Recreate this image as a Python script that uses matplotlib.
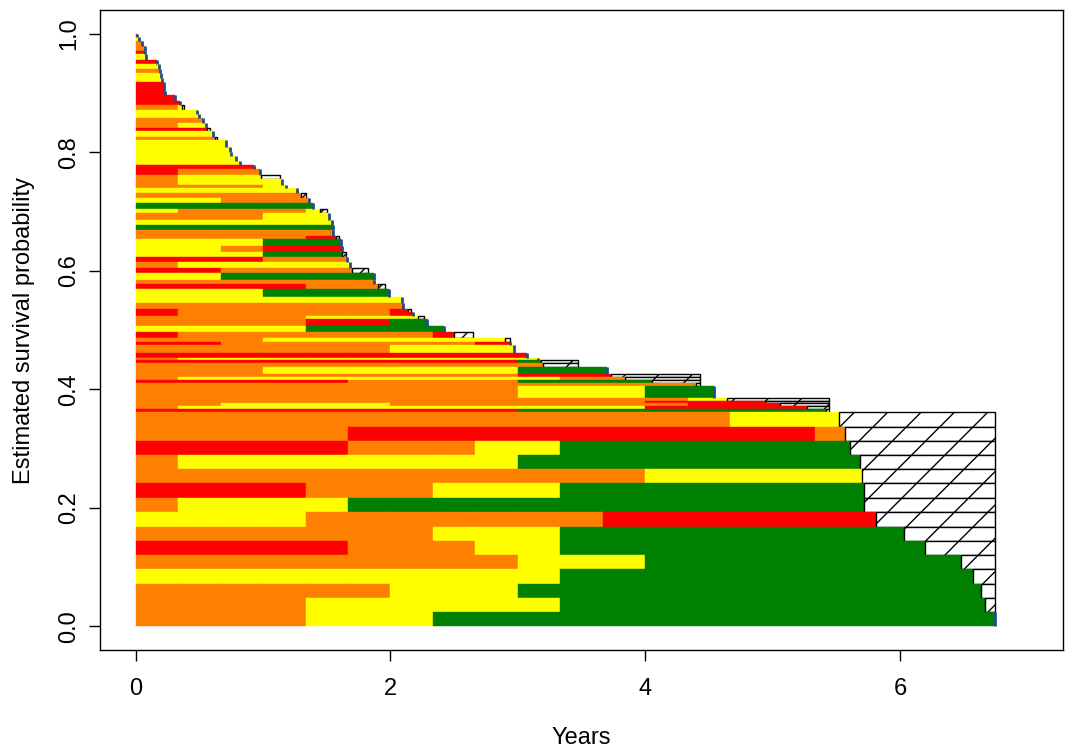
import numpy as np
import matplotlib.pyplot as plt

plt.rcParams['font.family'] = ['Liberation Sans', 'DejaVu Sans']
plt.rcParams['hatch.linewidth'] = 1.0

# state colours (one code per 4-month visit interval)
state_colors = {'O': '#FF8000', 'R': '#FF0000', 'Y': '#FFFF00', 'G': '#008000'}
visit = 1 / 3

# rows listed from top to bottom: top of row (survival), end time (years),
# states per visit interval (last one carries on), censoring box end (0 = death)
row_top = [1.000, 0.995, 0.987, 0.980, 0.971, 0.965, 0.956, 0.949, 0.941, 0.934,
           0.926, 0.919, 0.903, 0.896, 0.887, 0.880, 0.872, 0.865, 0.857, 0.850,
           0.841, 0.835, 0.826, 0.820, 0.809, 0.801, 0.794, 0.786, 0.779, 0.772,
           0.762, 0.755, 0.745, 0.739, 0.732, 0.723, 0.715, 0.705, 0.698, 0.686,
           0.678, 0.669, 0.659, 0.653, 0.641, 0.632, 0.624, 0.614, 0.605, 0.597,
           0.585, 0.577, 0.570, 0.556, 0.545, 0.535, 0.530, 0.523, 0.518, 0.506,
           0.496, 0.487, 0.479, 0.474, 0.462, 0.452, 0.449, 0.444, 0.438, 0.425,
           0.420, 0.415, 0.410, 0.406, 0.386, 0.381, 0.376, 0.371, 0.366,
           0.361, 0.337, 0.313, 0.289, 0.265, 0.241, 0.217, 0.193, 0.168, 0.144,
           0.120, 0.096, 0.072, 0.048, 0.024]
row_end = [0.01, 0.03, 0.047, 0.07, 0.07, 0.08, 0.17, 0.18, 0.19, 0.20,
           0.21, 0.22, 0.23, 0.31, 0.35, 0.36, 0.48, 0.50, 0.53, 0.55,
           0.56, 0.61, 0.62, 0.71, 0.74, 0.75, 0.79, 0.82, 0.93, 0.975,
           0.98, 1.15, 1.18, 1.27, 1.30, 1.36, 1.39, 1.45, 1.52, 1.54,
           1.55, 1.55, 1.57, 1.61, 1.62, 1.62, 1.66, 1.68, 1.70, 1.87,
           1.87, 1.90, 1.99, 2.09, 2.10, 2.14, 2.18, 2.22, 2.29, 2.42,
           2.50, 2.90, 2.94, 2.97, 3.07, 3.16, 3.18, 3.20, 3.70, 3.73,
           3.84, 4.05, 4.40, 4.54, 4.64, 4.94, 5.06, 5.27, 5.42,
           5.52, 5.57, 5.61, 5.69, 5.70, 5.72, 5.72, 5.81, 6.03, 6.20,
           6.48, 6.57, 6.64, 6.67, 6.75]
row_states = ['R', 'Y', 'O', 'O', 'R', 'Y', 'R', 'Y', 'O', 'Y',
              'Y', 'R', 'R', 'R', 'R', 'OY', 'Y', 'Y', 'O', 'OY',
              'R', 'Y', 'O', 'Y', 'Y', 'Y', 'Y', 'Y', 'R', 'RO',
              'OYY', 'OYYY', 'OOOY', 'Y', 'OOOO', 'YYO', 'G', 'YOOOY', 'OOOY', 'Y',
              'G', 'O', 'OOOOR', 'YYYG', 'YYOR', 'YYYG', 'RRRO', 'OY', 'RRO', 'YYG',
              'O', 'RRRRO', 'YYYG', 'Y', 'O', 'ROOOOOR', 'ROOOOOR', 'OOOOYYY', 'OOOORRG', 'YYYYG',
              'ROOOOOOR', 'OOOYYYYYY', 'RROOOOOOR', 'OOOOOOYYY', 'R', 'OY',
              'RRRRRRRRRG', 'O', 'OOOYYYYYYG', 'OOOOOOOOOR',
              'OYYYYYYYYYO', 'RRRRROOOOG', 'O', 'OOOOOOOOOYYYG', 'OOOOOOOOOOOOOY',
              'OOOOOOOOOOOOR', 'OOYYYYOOOOOOOR', 'OYYYYYYYYYYYR', 'RRRRRRRRRG',
              'OOOOOOOOOOOOOOY', 'OOOOORRRRRRRRRRRO', 'RRRRROOOYYG', 'OYYYYYYYYG',
              'OOOOOOOOOOOOY', 'RRRROOOYYYG', 'OYYYYG', 'YYYYOOOOOOOR', 'OOOOOOOYYYG',
              'RRRRROOOYYG', 'OOOOOOOOOYYYG', 'YYYYYYYYYYG', 'OOOOOOYYYG',
              'OOOOYYYYYYG', 'OOOOYYYG']
row_cens = [0, 0, 0, 0, 0, 0, 0, 0, 0, 0,
            0, 0, 0, 0, 0, 0.38, 0, 0, 0, 0,
            0.58, 0, 0.635, 0, 0, 0, 0, 0, 0, 0,
            1.13, 0, 0, 0, 1.34, 0, 0, 1.50, 0, 0,
            0, 0, 1.60, 0, 0, 1.65, 0, 0, 1.82, 0,
            0, 1.96, 0, 0, 0, 2.16, 0, 2.26, 0, 0,
            2.65, 2.94, 0, 0, 0, 0, 3.47, 3.47, 0, 4.43,
            4.43, 4.43, 4.43, 0, 5.44, 5.44, 5.44, 5.44, 5.44,
            6.75, 6.75, 6.75, 6.75, 6.75, 6.75, 6.75, 6.75, 6.75, 6.75,
            6.75, 6.75, 6.75, 6.75, 0]

fig = plt.figure(figsize=(10.68, 7.49), dpi=100)
ax = fig.add_axes([100 / 1068, 99 / 749, 963 / 1068, 640 / 749])

n = len(row_top)
bottoms = row_top[1:] + [0.0]

for i in range(n):
    top, bot, end, st = row_top[i], bottoms[i], row_end[i], row_states[i]
    h = top - bot
    for k, code in enumerate(st):
        start = k * visit
        if start >= end:
            break
        stop = end if k == len(st) - 1 else min((k + 1) * visit, end)
        c = state_colors[code]
        ax.barh(bot, stop - start, left=start, height=h, align='edge',
                color=c, edgecolor=c, linewidth=0.3)
    if row_cens[i] > 0:
        ax.barh(bot, row_cens[i] - end, left=end, height=h, align='edge',
                color='white', edgecolor='black', linewidth=1.0, hatch='/')
    else:
        ax.vlines(end, bot, top, color='#1F4E8C', linewidth=2)

ax.set_xlim(-0.28, 7.28)
ax.set_ylim(-0.04, 1.04)
ax.set_xticks([0, 2, 4, 6])
ax.set_yticks([0.0, 0.2, 0.4, 0.6, 0.8, 1.0])
ax.set_yticklabels(['0.0', '0.2', '0.4', '0.6', '0.8', '1.0'], rotation=90, va='center')
ax.tick_params(direction='out', length=8, width=1, labelsize=17)
ax.tick_params(axis='x', pad=12)
ax.tick_params(axis='y', pad=6)
for sp in ax.spines.values():
    sp.set_linewidth(1)

ax.set_xlabel('Years', fontsize=17)
ax.set_ylabel('Estimated survival probability', fontsize=17)
ax.xaxis.set_label_coords(0.5, -0.12)
ax.yaxis.set_label_coords(-0.068, 0.5)

plt.savefig('out.png', dpi=100)
